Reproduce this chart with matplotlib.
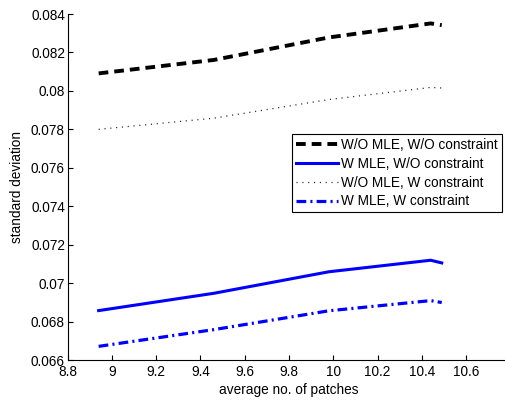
import matplotlib
matplotlib.use("Agg")
import matplotlib.pyplot as plt
from matplotlib.ticker import FuncFormatter, FixedLocator, MultipleLocator

plt.rcParams["font.family"] = ["Liberation Sans", "DejaVu Sans"]
plt.rcParams["lines.scale_dashes"] = False

# average number of patches (x) for each run
patches = [8.94, 9.46, 9.98, 10.44, 10.49]

# standard deviation for each setting
wo_mle_wo_con = [0.08091, 0.08161, 0.08278, 0.08351, 0.08342]
w_mle_wo_con = [0.06857, 0.06947, 0.07059, 0.07119, 0.07105]
wo_mle_w_con = [0.07800, 0.07858, 0.07955, 0.08018, 0.08015]
w_mle_w_con = [0.06671, 0.06758, 0.06856, 0.06909, 0.06899]

labels = [
    "W/O MLE, W/O constraint",
    "W MLE, W/O constraint",
    "W/O MLE, W constraint",
    "W MLE, W constraint",
]

x_ticks = [8.8, 9.0, 9.2, 9.4, 9.6, 9.8, 10.0, 10.2, 10.4, 10.6]

fs = 9.8

fig = plt.figure(figsize=(5.05, 4.0), dpi=100)
ax = fig.add_axes([0.134, 0.1, 0.8766, 0.865])

ax.plot(patches, wo_mle_wo_con, color="black", lw=2.8, dashes=(7.0, 4.3),
        label=labels[0])
ax.plot(patches, w_mle_wo_con, color="#0000ff", lw=2.2, label=labels[1])
ax.plot(patches, wo_mle_w_con, color="#222222", lw=0.9, dashes=(0.8, 3.4),
        label=labels[2])
ax.plot(patches, w_mle_w_con, color="#0000ff", lw=2.3,
        dashes=(7.0, 3.0, 1.5, 3.0), label=labels[3])

ax.set_xlim(8.8, 10.8)
ax.set_ylim(0.066, 0.084)
ax.xaxis.set_major_locator(FixedLocator(x_ticks))
ax.yaxis.set_major_locator(MultipleLocator(0.002))
fmt = FuncFormatter(lambda v, pos: "%g" % round(v, 6))
ax.xaxis.set_major_formatter(fmt)
ax.yaxis.set_major_formatter(fmt)

ax.spines["top"].set_visible(False)
ax.spines["right"].set_visible(False)
ax.tick_params(direction="in", length=3.5, width=0.8, labelsize=fs, pad=2)
ax.tick_params(axis="x", pad=3.5)

ax.set_xlabel("average no. of patches", fontsize=fs, labelpad=3)
ax.set_ylabel("standard deviation", fontsize=fs, labelpad=5)

leg = ax.legend(loc="upper left", bbox_to_anchor=(291.7 / 505, 1 - 134 / 400),
                bbox_transform=fig.transFigure, borderaxespad=0,
                fontsize=fs, fancybox=False, framealpha=1,
                edgecolor="black", handlelength=3.1, handletextpad=0.25,
                labelspacing=0.35, borderpad=0.3)
leg.get_frame().set_linewidth(0.8)

fig.savefig("out.png", dpi=100)
